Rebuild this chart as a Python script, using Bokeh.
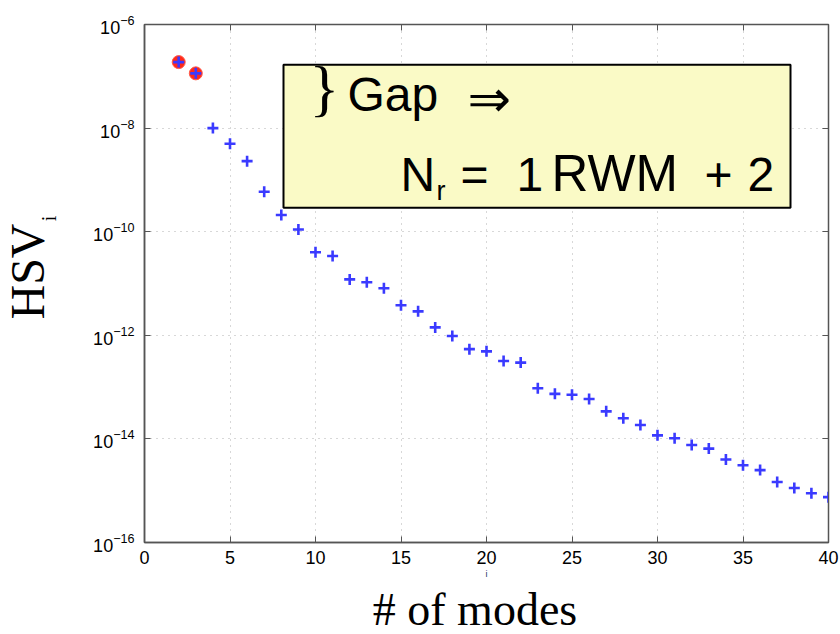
import math
from bokeh.plotting import figure
from bokeh.models import (Label, BoxAnnotation, LinearAxis, LogAxis, LogTicker, Title,
                          SingleIntervalTicker, CustomJSTickFormatter, Range1d)
from bokeh.embed import file_html
from bokeh.resources import INLINE

# ---------------- data ----------------
modes = list(range(2, 41))
hsv = [1.88e-7, 1.14e-7, 1.0e-8, 5.0e-9, 2.3e-9, 5.9e-10, 2.1e-10, 1.1e-10,
       4.0e-11, 3.4e-11, 1.2e-11, 1.06e-11, 8.1e-12, 3.8e-12, 2.9e-12, 1.42e-12,
       9.7e-13, 5.4e-13, 4.9e-13, 3.2e-13, 2.97e-13, 9.5e-14, 7.4e-14, 7.1e-14,
       5.9e-14, 3.4e-14, 2.5e-14, 1.86e-14, 1.17e-14, 1.03e-14, 7.6e-15, 6.5e-15,
       4.0e-15, 3.1e-15, 2.5e-15, 1.47e-15, 1.13e-15, 8.9e-16, 7.5e-16]
gap_modes = [2, 3]
gap_hsv = [1.88e-7, 1.14e-7]
x_lim = (0, 40)
y_lim = (1e-16, 1e-6)
x_title = "# of modes"
y_title = "HSV"
y_sub = "i"

# ---------------- layout ----------------
W, H = 840, 634
L, R, T, B = 144, 12, 24, 90
fw, fh = W - L - R, H - T - B
NB = "\u00a0"

def dx(px):  # canvas px -> data x
    return x_lim[0] + (px - L) / fw * (x_lim[1] - x_lim[0])

def dy(py):  # canvas px (from top) -> data y (log)
    e_top, e_bot = math.log10(y_lim[1]), math.log10(y_lim[0])
    e = e_top - (py - T) / fh * (e_top - e_bot)
    return 10 ** e

p = figure(width=W, height=H, y_axis_type="log", output_backend="svg",
           toolbar_location=None, x_range=Range1d(*x_lim), y_range=Range1d(*y_lim),
           min_border_left=L, min_border_right=R, min_border_top=T, min_border_bottom=B)
p.background_fill_color = "white"
p.border_fill_color = "white"
p.outline_line_color = "#555555"
p.outline_line_width = 1.5

# axes
xt = SingleIntervalTicker(interval=5, num_minor_ticks=0)
yt = LogTicker(desired_num_ticks=6, num_minor_ticks=0)
p.xaxis.ticker = xt
p.yaxis.ticker = yt
for ax in (p.xaxis[0], p.yaxis[0]):
    ax.major_tick_in = 6
    ax.major_tick_out = 0
    ax.minor_tick_in = 0
    ax.minor_tick_out = 0
    ax.axis_line_color = "#555555"
    ax.axis_line_width = 1.5
    ax.major_tick_line_color = "#555555"
    ax.major_label_text_font = "Liberation Sans"
    ax.major_label_text_font_size = "18px"
    ax.major_label_text_color = "black"
    ax.axis_label_text_font_style = "normal"
    ax.axis_label_text_color = "black"
p.xaxis.major_label_standoff = 8
p.yaxis.major_label_standoff = 10

# subscript "i" of HSV as the inner y-axis label; stray "i" under the x ticks
p.yaxis.axis_label = NB * 26 + y_sub
p.yaxis.axis_label_text_font = "Liberation Serif"
p.yaxis.axis_label_text_font_size = "20px"
p.yaxis.axis_label_standoff = 30
p.xaxis.axis_label = "i"
p.xaxis.axis_label_text_font = "Liberation Sans"
p.xaxis.axis_label_text_font_size = "9px"
p.xaxis.axis_label_text_color = "#223366"
p.xaxis.axis_label_standoff = 2

top_ax = LinearAxis(ticker=SingleIntervalTicker(interval=5, num_minor_ticks=0),
                    formatter=CustomJSTickFormatter(code="return ''"),
                    major_tick_in=6, major_tick_out=0,
                    minor_tick_in=0, minor_tick_out=0, axis_line_color="#555555",
                    major_tick_line_color="#555555", major_label_text_font_size="0px",
                    major_label_standoff=0)
right_ax = LogAxis(ticker=LogTicker(desired_num_ticks=6, num_minor_ticks=0),
                   formatter=CustomJSTickFormatter(code="return ''"),
                   major_tick_in=6, major_tick_out=0,
                   minor_tick_in=0, minor_tick_out=0, axis_line_color="#555555",
                   major_tick_line_color="#555555", major_label_text_font_size="0px",
                   major_label_standoff=0)
p.add_layout(top_ax, "above")
p.add_layout(right_ax, "right")

# axis titles as Titles outside the axes
p.add_layout(Title(text=NB * 2 + y_title, align="center", text_font="Liberation Serif",
                   text_font_size="48px", text_font_style="normal", text_color="black",
                   standoff=-37), "left")
p.add_layout(Title(text=x_title + NB * 2, align="center", text_font="Liberation Serif",
                   text_font_size="46px", text_font_style="normal", text_color="black",
                   standoff=0), "below")

# grid
for g in (p.xgrid[0], p.ygrid[0]):
    g.grid_line_color = "#b0b0b0"
    g.grid_line_dash = "1 5"
    g.grid_line_width = 1
p.xgrid.ticker = xt

# data marks
p.scatter(gap_modes, gap_hsv, marker="circle", size=13, fill_color="#ff2a1a",
          line_color="#ff5a4a", line_width=1)
p.scatter(modes, hsv, marker="cross", size=11, line_color="#3a3aff", line_width=2.6)

# annotation box
box = BoxAnnotation(left=dx(283), right=dx(790), top=dy(64.5), bottom=dy(208),
                    fill_color="#fafac6", fill_alpha=1.0, line_color="black",
                    line_width=2, line_alpha=1.0)
p.add_layout(box)

K = 0.36  # empirical baseline correction

def lab(text, px, py, font, size, align="left", color="black"):
    p.add_layout(Label(x=dx(px), y=dy(py - K * size), text=text, text_font=font,
                       text_font_size=f"{size}px", text_align=align,
                       text_baseline="alphabetic", text_color=color))

lab("}", 309, 110, "Liberation Serif", 62)
lab("Gap", 347, 112, "Liberation Sans", 48)
lab("\u21d2", 467, 118, "DejaVu Sans", 52)
lab("N", 400, 192, "Liberation Sans", 48)
lab("r", 436, 201, "Liberation Sans", 27)
lab("=", 460, 192, "Liberation Sans", 48)
lab("1", 516, 192, "Liberation Sans", 48)
lab("RWM", 551, 192, "Liberation Sans", 51)
lab("+", 704, 192, "Liberation Sans", 48)
lab("2", 747, 192, "Liberation Sans", 48)

open("out.html", "w").write(file_html(p, INLINE))
